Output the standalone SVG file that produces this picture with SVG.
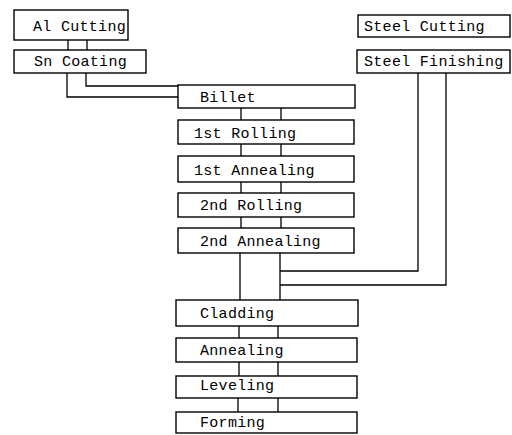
<svg xmlns="http://www.w3.org/2000/svg" width="512" height="435" viewBox="0 0 512 435">
<style>
.box{fill:#fff;stroke:#000;stroke-width:1.4}
.lbl{font-family:"Liberation Mono","DejaVu Sans Mono",monospace;font-size:15px;letter-spacing:0.3px;fill:#000}
.con{fill:none;stroke:#000;stroke-width:1.3}
</style>
<rect width="512" height="435" fill="#fff"/>
<g id="connectors">
<path class="con" d="M68 40V50M87 40V50"/>
<path class="con" d="M67 73V97H178M86 73V86H178"/>
<path class="con" d="M241 108V120M281 108V120"/>
<path class="con" d="M241 144V156M281 144V156"/>
<path class="con" d="M241 182V193M281 182V193"/>
<path class="con" d="M241 217V228M281 217V228"/>
<path class="con" d="M240 253V300M280 253V300"/>
<path class="con" d="M418 73V271H280M446 73V285H280"/>
<path class="con" d="M239 326V338M278 326V338"/>
<path class="con" d="M239 362V376M278 362V376"/>
<path class="con" d="M238 398V412M278 398V412"/>
</g>
<g id="al-cutting"><rect class="box" x="14" y="10" width="114" height="30"/><text class="lbl" x="33" y="31">Al Cutting</text></g>
<g id="sn-coating"><rect class="box" x="14" y="50" width="132" height="23"/><text class="lbl" x="34" y="66">Sn Coating</text></g>
<g id="steel-cutting"><rect class="box" x="358" y="15" width="152" height="22"/><text class="lbl" x="364" y="31">Steel Cutting</text></g>
<g id="steel-finishing"><rect class="box" x="357" y="50" width="153" height="23"/><text class="lbl" x="364" y="66">Steel Finishing</text></g>
<g id="billet"><rect class="box" x="178" y="85" width="177" height="23"/><text class="lbl" x="200" y="102">Billet</text></g>
<g id="rolling1"><rect class="box" x="178" y="120" width="176" height="24"/><text class="lbl" x="194" y="138">1st Rolling</text></g>
<g id="annealing1"><rect class="box" x="178" y="156" width="176" height="26"/><text class="lbl" x="194" y="175">1st Annealing</text></g>
<g id="rolling2"><rect class="box" x="178" y="193" width="176" height="24"/><text class="lbl" x="200" y="210">2nd Rolling</text></g>
<g id="annealing2"><rect class="box" x="178" y="228" width="176" height="25"/><text class="lbl" x="200" y="246">2nd Annealing</text></g>
<g id="cladding"><rect class="box" x="176" y="300" width="182" height="26"/><text class="lbl" x="200" y="318">Cladding</text></g>
<g id="annealing"><rect class="box" x="176" y="338" width="181" height="24"/><text class="lbl" x="200" y="355">Annealing</text></g>
<g id="leveling"><rect class="box" x="176" y="376" width="181" height="22"/><text class="lbl" x="200" y="390">Leveling</text></g>
<g id="forming"><rect class="box" x="176" y="412" width="181" height="21"/><text class="lbl" x="200" y="427">Forming</text></g>
</svg>
